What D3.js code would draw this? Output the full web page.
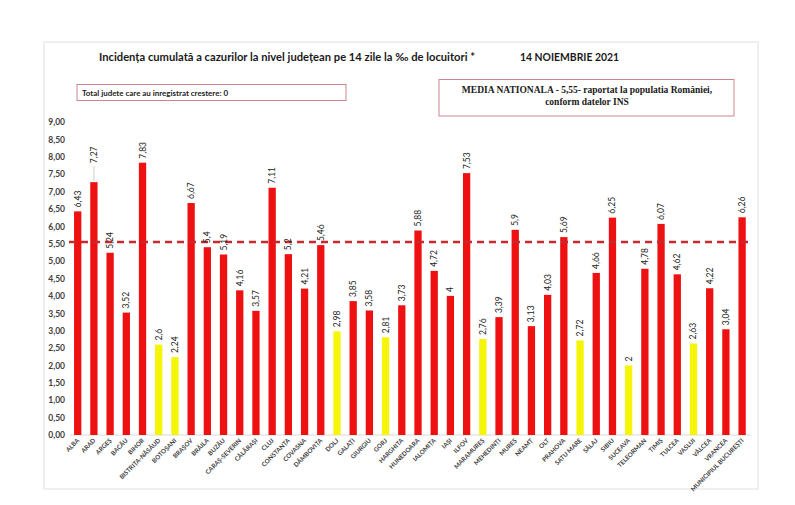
<!DOCTYPE html>
<html lang="ro">
<head>
<meta charset="UTF-8">
<title>Incidența cumulată</title>
<script src="https://d3js.org/d3.v7.min.js"></script>
<style>
    body { margin: 0; padding: 0; background: #ffffff; }
    svg { display: block; }
    .axis--y text { font-family: Lato, sans-serif; font-size: 8.5px; font-weight: bold; fill: #404040; }
    .axis--x text { font-family: Lato, sans-serif; font-size: 6.2px; font-weight: bold; fill: #404040; }
    .label { font-family: Lato, sans-serif; font-size: 8.5px; fill: #262626; }
</style>
</head>
<body>
<svg id="chart" width="795" height="505"></svg>
<script>
    const counties = ["ALBA", "ARAD", "ARGEȘ", "BACĂU", "BIHOR", "BISTRIȚA-NĂSĂUD", "BOTOȘANI", "BRAȘOV",
        "BRĂILA", "BUZĂU", "CARAȘ-SEVERIN", "CĂLĂRAȘI", "CLUJ", "CONSTANȚA", "COVASNA", "DÂMBOVIȚA",
        "DOLJ", "GALAȚI", "GIURGIU", "GORJ", "HARGHITA", "HUNEDOARA", "IALOMIȚA", "IAȘI", "ILFOV",
        "MARAMUREȘ", "MEHEDINȚI", "MUREȘ", "NEAMȚ", "OLT", "PRAHOVA", "SATU MARE", "SĂLAJ", "SIBIU",
        "SUCEAVA", "TELEORMAN", "TIMIȘ", "TULCEA", "VASLUI", "VÂLCEA", "VRANCEA", "MUNICIPIUL BUCUREȘTI"];
    const incidence = [6.43, 7.27, 5.24, 3.52, 7.83, 2.6, 2.24, 6.67,
        5.4, 5.19, 4.16, 3.57, 7.11, 5.2, 4.21, 5.46,
        2.98, 3.85, 3.58, 2.81, 3.73, 5.88, 4.72, 4, 7.53,
        2.76, 3.39, 5.9, 3.13, 4.03, 5.69, 2.72, 4.66, 6.25,
        2, 4.78, 6.07, 4.62, 2.63, 4.22, 3.04, 6.26];
    const nationalAverage = 5.55;
    const yTicks = d3.range(0, 9.01, 0.5);
    const yellowThreshold = 3;   // judete sub 3‰ in galben
    const liftedLabels = { "ARAD": 15 };

    const data = counties.map((c, i) => ({ county: c, value: incidence[i] }));
    const fmt = v => String(v).replace(".", ",");

    const svg = d3.select("#chart");

    // chenar zona grafic
    svg.append("rect")
        .attr("x", 44).attr("y", 42)
        .attr("width", 714).attr("height", 447)
        .attr("fill", "none")
        .attr("stroke", "#e0e0e0")
        .attr("stroke-width", 1);

    // titlu
    svg.append("text")
        .attr("x", 99).attr("y", 61)
        .attr("textLength", 376)
        .attr("lengthAdjust", "spacingAndGlyphs")
        .style("font-family", "Lato, sans-serif")
        .style("font-size", "12px")
        .style("font-weight", "bold")
        .style("fill", "#1a1a1a")
        .text("Incidența cumulată a cazurilor la nivel județean pe 14 zile la ‰ de locuitori *");

    svg.append("text")
        .attr("x", 520).attr("y", 61)
        .attr("textLength", 99)
        .attr("lengthAdjust", "spacingAndGlyphs")
        .style("font-family", "Lato, sans-serif")
        .style("font-size", "12px")
        .style("font-weight", "bold")
        .style("fill", "#1a1a1a")
        .text("14 NOIEMBRIE 2021");

    // casete
    svg.append("rect")
        .attr("x", 77).attr("y", 84.5)
        .attr("width", 269).attr("height", 16)
        .attr("fill", "#ffffff")
        .attr("stroke", "#c9858f")
        .attr("stroke-width", 1);

    svg.append("text")
        .attr("x", 82).attr("y", 95.5)
        .attr("textLength", 146)
        .attr("lengthAdjust", "spacingAndGlyphs")
        .style("font-family", "Lato, sans-serif")
        .style("font-size", "7.5px")
        .style("font-weight", "bold")
        .style("fill", "#1a1a1a")
        .text("Total judete care au inregistrat crestere: 0");

    svg.append("rect")
        .attr("x", 439).attr("y", 79.5)
        .attr("width", 295).attr("height", 36.5)
        .attr("fill", "#ffffff")
        .attr("stroke", "#c9858f")
        .attr("stroke-width", 1);

    const boxText = svg.append("text")
        .attr("text-anchor", "middle")
        .style("font-family", "'Liberation Serif', 'Times New Roman', serif")
        .style("font-size", "9.5px")
        .style("font-weight", "bold")
        .style("fill", "#1a1a1a");
    boxText.append("tspan").attr("x", 587).attr("y", 93)
        .text("MEDIA NATIONALA - 5,55-  raportat la populatia României,");
    boxText.append("tspan").attr("x", 587).attr("y", 105)
        .text("conform datelor INS");

    // scale
    const x = d3.scaleBand()
        .domain(counties)
        .range([69.6, 750.2])
        .paddingInner(0.55)
        .paddingOuter(0.275);

    const y = d3.scaleLinear()
        .domain([0, 9])
        .range([435, 122]);

    // axa Y
    svg.append("g")
        .attr("class", "axis--y")
        .attr("transform", "translate(67,0)")
        .call(d3.axisLeft(y).tickValues(yTicks).tickSize(0).tickPadding(2)
            .tickFormat(d => d3.format(".2f")(d).replace(".", ",")))
        .call(g => g.select(".domain").remove());

    // axa X
    const xAxis = svg.append("g")
        .attr("class", "axis--x")
        .attr("transform", "translate(0,435)")
        .call(d3.axisBottom(x).tickSize(0).tickPadding(0));
    xAxis.select(".domain").attr("stroke", "#d9d9d9").attr("d", `M${x.range()[0]},0H${x.range()[1]}`);
    xAxis.selectAll(".tick text")
        .attr("text-anchor", "end")
        .attr("dy", "0")
        .attr("transform", "translate(2,6) rotate(-45)");

    // bare
    svg.selectAll("rect.bar")
        .data(data)
        .enter().append("rect")
        .attr("class", "bar")
        .attr("x", d => x(d.county))
        .attr("y", d => y(d.value))
        .attr("width", x.bandwidth())
        .attr("height", d => y(0) - y(d.value))
        .attr("fill", d => d.value < yellowThreshold ? "#f5f50a" : "#ee1111");

    // media nationala
    svg.append("line")
        .attr("x1", 69).attr("x2", 750)
        .attr("y1", y(nationalAverage)).attr("y2", y(nationalAverage))
        .attr("stroke", "#c62a2f")
        .attr("stroke-width", 2.5)
        .attr("stroke-dasharray", "7,5");

    // linii de legatura pentru etichetele ridicate
    svg.selectAll("line.leader")
        .data(data.filter(d => liftedLabels[d.county]))
        .enter().append("line")
        .attr("class", "leader")
        .attr("x1", d => x(d.county) + x.bandwidth() / 2)
        .attr("x2", d => x(d.county) + x.bandwidth() / 2)
        .attr("y1", d => y(d.value) - 1)
        .attr("y2", d => y(d.value) - liftedLabels[d.county] - 1)
        .attr("stroke", "#bfbfbf")
        .attr("stroke-width", 0.8);

    // etichete valori
    svg.selectAll("text.label")
        .data(data)
        .enter().append("text")
        .attr("class", "label")
        .attr("transform", d => {
            const cx = x(d.county) + x.bandwidth() / 2 + 3;
            const cy = y(d.value) - 4 - (liftedLabels[d.county] || 0);
            return `translate(${cx},${cy}) rotate(-90)`;
        })
        .attr("text-anchor", "start")
        .text(d => fmt(d.value));
</script>
</body>
</html>
